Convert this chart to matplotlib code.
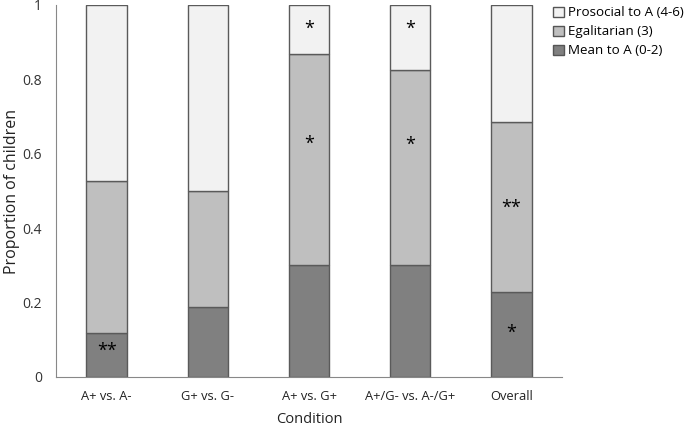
import matplotlib
matplotlib.use("Agg")
import matplotlib.pyplot as plt
import numpy as np

categories = ["A+ vs. A-", "G+ vs. G-", "A+ vs. G+", "A+/G- vs. A-/G+", "Overall"]
mean_to_a = [0.117, 0.187, 0.300, 0.300, 0.228]
egalitarian = [0.411, 0.313, 0.567, 0.525, 0.457]
prosocial = [0.472, 0.500, 0.133, 0.175, 0.315]
series_labels = ["Mean to A (0-2)", "Egalitarian (3)", "Prosocial to A (4-6)"]
# significance marks: (bar index, y position, text)
marks = [(0, 0.07, "**"), (2, 0.935, "*"), (2, 0.628, "*"),
         (3, 0.935, "*"), (3, 0.625, "*"), (4, 0.455, "**"), (4, 0.118, "*")]
yticks = [0, 0.2, 0.4, 0.6, 0.8, 1]
ytick_labels = ["0", "0.2", "0.4", "0.6", "0.8", "1"]

plt.rcParams['font.family'] = ['Open Sans', 'DejaVu Sans']

fig = plt.figure(figsize=(6.85, 4.28), dpi=100)
ax = fig.add_axes([56/685, 51/428, (562-56)/685, 372/428])

x = np.arange(len(categories))
colors = ["#808080", "#bfbfbf", "#f2f2f2"]
edge = "#5a5a5a"
bottom = np.zeros(len(categories))
handles = []
for vals, col, lab in zip([mean_to_a, egalitarian, prosocial], colors, series_labels):
    b = ax.bar(x, vals, width=0.4, bottom=bottom, color=col, edgecolor=edge,
               linewidth=1.0, label=lab)
    handles.append(b)
    bottom = bottom + np.array(vals)

for i, yv, t in marks:
    ax.text(x[i], yv, t, ha="center", va="center", fontsize=13, color="black")

ax.set_xlim(-0.5, 4.5)
ax.set_ylim(0, 1)
ax.set_yticks(yticks)
ax.set_yticklabels(ytick_labels, fontsize=10, color="#333333")
ax.set_xticks(x)
ax.set_xticklabels(categories, fontsize=9.3, color="#222222")
ax.tick_params(axis="x", length=0, pad=9)
ax.tick_params(axis="y", length=0, pad=10)
for s in ["top", "right"]:
    ax.spines[s].set_visible(False)
ax.spines["left"].set_color("#888888")
ax.spines["bottom"].set_color("#888888")
ax.set_ylabel("Proportion of children", fontsize=11.5, color="#222222")
ax.yaxis.set_label_coords((20 - 56) / 506, 0.5)
ax.set_xlabel("Condition", fontsize=10.5, color="#222222", labelpad=7)

leg = fig.legend(handles[::-1], series_labels[::-1], loc="upper left",
                 bbox_to_anchor=(548/685, 1 - 1/428), frameon=False, fontsize=9.6,
                 handlelength=0.8, handleheight=0.8, handletextpad=0.3,
                 labelspacing=0.45, borderaxespad=0)
for p in leg.get_patches():
    p.set_edgecolor("#555555")

fig.savefig("out.png", dpi=100)
